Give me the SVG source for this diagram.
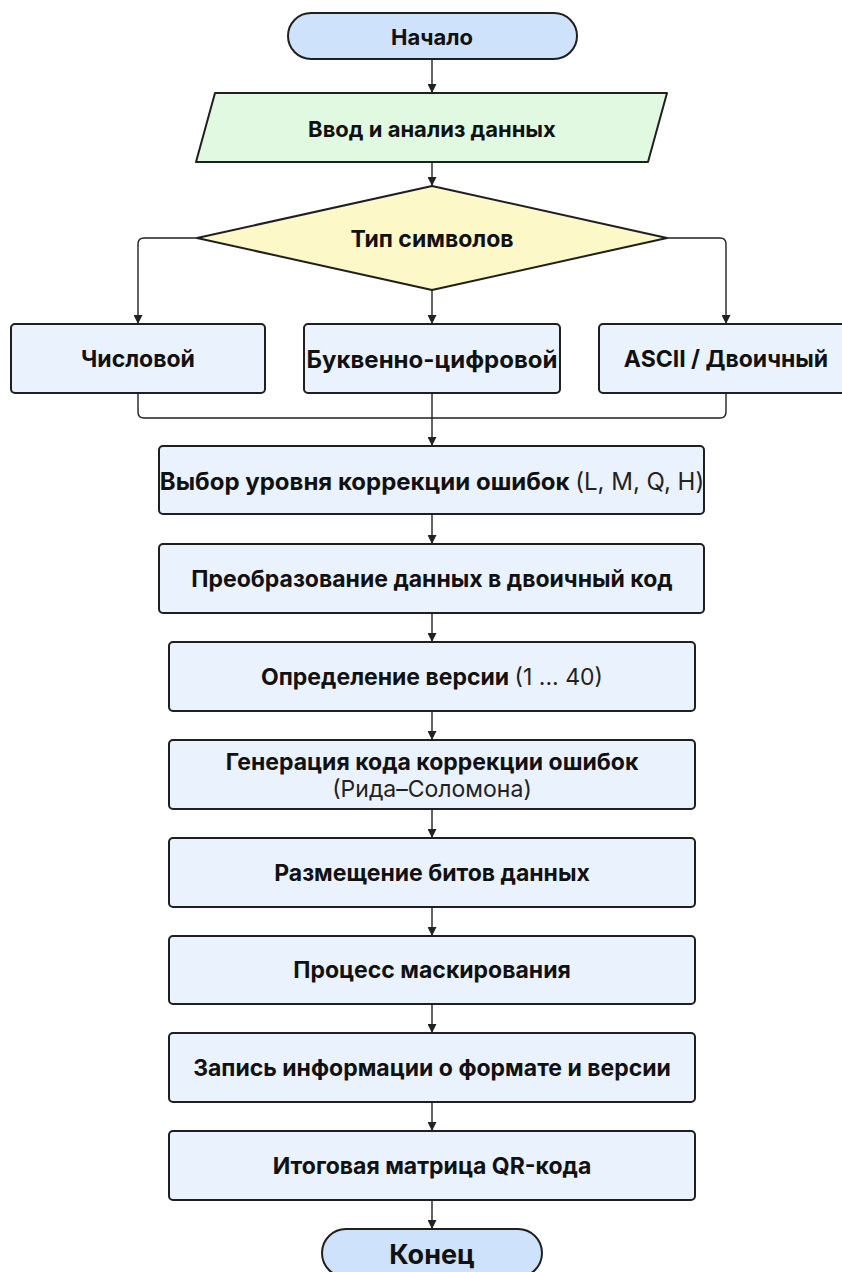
<svg xmlns="http://www.w3.org/2000/svg" width="842" height="1272" viewBox="0 0 842 1272">
<defs>
<marker id="arr" viewBox="0 0 10 10" refX="10" refY="5" markerWidth="9" markerHeight="9" markerUnits="userSpaceOnUse" orient="auto">
<path d="M0,0 L10,5 L0,10 z" fill="#222"/>
</marker>
<style>
.term{fill:#cfe2fb;stroke:#1f1f1f;stroke-width:2}
.io{fill:#e1f8e1;stroke:#1f1f1f;stroke-width:2;stroke-linejoin:round}
.dec{fill:#fcf8c8;stroke:#1f1f1f;stroke-width:2;stroke-linejoin:round}
.box{fill:#eaf2fd;stroke:#1f1f1f;stroke-width:2}
.lbl{font-family:Inter,"Liberation Sans",sans-serif;font-weight:700;font-size:23px;fill:#111;text-anchor:middle;dominant-baseline:central}
.big{font-size:24px}
.top{font-size:22px}
.end{font-size:27px}
.reg{font-weight:400;fill:#222}
.con{fill:none;stroke:#222;stroke-width:1.4}
.car{marker-end:url(#arr)}
</style>
</defs>
<rect width="842" height="1272" fill="#fff"/>

<g id="connectors">
<path class="con car" d="M432,59 V93"/>
<path class="con car" d="M432,162 V186"/>
<path class="con car" d="M197,238 H144 Q138,238 138,244 V324"/>
<path class="con car" d="M432,290 V324"/>
<path class="con car" d="M667,238 H720 Q726,238 726,244 V324"/>
<path class="con" d="M138,393 V412 Q138,418 144,418 H432"/>
<path class="con" d="M726,393 V412 Q726,418 720,418 H432"/>
<path class="con car" d="M432,393 V446"/>
<path class="con car" d="M432,514 V544"/>
<path class="con car" d="M432,613 V642"/>
<path class="con car" d="M432,711 V740"/>
<path class="con car" d="M432,809 V838"/>
<path class="con car" d="M432,907 V936"/>
<path class="con car" d="M432,1004 V1033"/>
<path class="con car" d="M432,1102 V1131"/>
<path class="con car" d="M432,1200 V1229"/>
</g>

<g id="start">
<rect class="term" x="288" y="13" width="289" height="46" rx="23"/>
<text class="lbl top" x="432" y="37">Начало</text>
</g>

<g id="input">
<path class="io" d="M215,93 H667 L648,162 H196 Z"/>
<text class="lbl top" x="432" y="129">Ввод и анализ данных</text>
</g>

<g id="decision">
<path class="dec" d="M432,186 L667,238 L432,290 L197,238 Z"/>
<text class="lbl" x="432" y="239">Тип символов</text>
</g>

<g id="numeric">
<rect class="box" x="11" y="324" width="254" height="69" rx="4"/>
<text class="lbl" x="138" y="359">Числовой</text>
</g>

<g id="alnum">
<rect class="box" x="304" y="324" width="256" height="69" rx="4"/>
<text class="lbl big" x="432" y="359">Буквенно-цифровой</text>
</g>

<g id="ascii">
<rect class="box" x="599" y="324" width="256" height="69" rx="4"/>
<text class="lbl" x="726" y="359">ASCII / Двоичный</text>
</g>

<g id="ecl">
<rect class="box" x="159" y="446" width="545" height="68" rx="4"/>
<text class="lbl big" x="432" y="481">Выбор уровня коррекции ошибок <tspan class="reg">(L, M, Q, H)</tspan></text>
</g>

<g id="convert">
<rect class="box" x="159" y="544" width="545" height="69" rx="4"/>
<text class="lbl" x="432" y="579">Преобразование данных в двоичный код</text>
</g>

<g id="version">
<rect class="box" x="169" y="642" width="526" height="69" rx="4"/>
<text class="lbl" x="432" y="677">Определение версии <tspan class="reg">(1 ... 40)</tspan></text>
</g>

<g id="rs">
<rect class="box" x="169" y="740" width="526" height="69" rx="4"/>
<text class="lbl" x="432" y="762">Генерация кода коррекции ошибок</text>
<text class="lbl reg" x="432" y="789">(Рида–Соломона)</text>
</g>

<g id="place">
<rect class="box" x="169" y="838" width="526" height="69" rx="4"/>
<text class="lbl" x="432" y="873">Размещение битов данных</text>
</g>

<g id="mask">
<rect class="box" x="169" y="936" width="526" height="68" rx="4"/>
<text class="lbl" x="432" y="970">Процесс маскирования</text>
</g>

<g id="format">
<rect class="box" x="169" y="1033" width="526" height="69" rx="4"/>
<text class="lbl" x="432" y="1068">Запись информации о формате и версии</text>
</g>

<g id="matrix">
<rect class="box" x="169" y="1131" width="526" height="69" rx="4"/>
<text class="lbl" x="432" y="1166">Итоговая матрица QR-кода</text>
</g>

<g id="end">
<rect class="term" x="322" y="1229" width="220" height="48" rx="24"/>
<text class="lbl end" x="432" y="1254">Конец</text>
</g>
</svg>
